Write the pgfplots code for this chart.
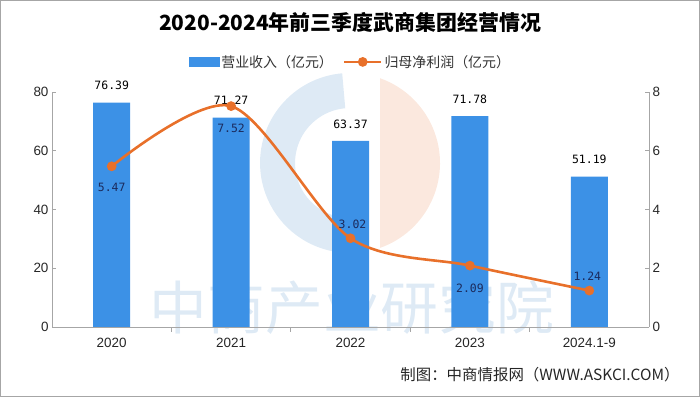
\documentclass[border=0pt]{standalone}
\usepackage{pgfplots}
\pgfplotsset{compat=1.18}
\usepackage{fontspec}
\setmainfont{Noto Sans CJK SC}
\newfontfamily\monofont{DejaVu Sans Mono}
\newfontfamily\arialfont{Liberation Sans}
\definecolor{barblue}{HTML}{3C91E6}
\definecolor{lineor}{HTML}{E8702A}
\definecolor{lblnavy}{HTML}{1B2A5C}
\definecolor{axgray}{HTML}{A6A6A6}
\definecolor{wmblue}{HTML}{DEEAF5}
\definecolor{wmpeach}{HTML}{FBE8DE}
\begin{document}
\begin{tikzpicture}
\useasboundingbox (0,0) rectangle (700bp,397bp);
\begin{scope}[x=1bp,y=1bp]
\draw[black!35, line width=1.5bp] (0.75,0.75) rectangle (699.25,396.25);
% watermark logo
\fill[wmpeach] (380,318.9) -- (380,149.1) arc[start angle=-70.53,end angle=70.53,radius=90] -- cycle;
\fill[wmblue] (342.2,323.7) arc[start angle=95,end angle=280,radius=90] -- (359.6,179.8) arc[start angle=280,end angle=95,radius=55] -- cycle;
\node[wmblue, font=\fontsize{58}{58}\selectfont] at (352,89) {中商产业研究院};
% title and source
\node[font=\bfseries\fontsize{21}{24}\selectfont] at (350,375) {2020-2024年前三季度武商集团经营情况};
\node[anchor=east, font=\fontsize{15.5}{17}\selectfont, text=black!85] at (683,22) {制图：中商情报网（WWW.ASKCI.COM）};
\end{scope}
\begin{axis}[
  at={(52bp,70bp)}, anchor=south west, scale only axis,
  width=597bp, height=235bp,
  xmin=-0.5, xmax=4.5, ymin=0, ymax=80,
  axis x line*=bottom, axis y line*=left,
  axis line style={axgray, line width=0.8bp},
  xtick={0,1,2,3,4}, xticklabels={2020,2021,2022,2023,2024.1-9},
  major x tick style={draw=none},
  minor xtick={0.5,1.5,2.5,3.5},
  minor tick length=5bp, minor x tick style={axgray, line width=0.8bp},
  ytick={0,20,40,60,80}, tick align=inside, major tick length=4bp,
  y tick style={axgray, line width=0.8bp},
  ticklabel style={font=\arialfont\fontsize{13.5}{15}\selectfont, text=black!85},
  xticklabel style={yshift=-4bp},
  /pgf/number format/assume math mode=true,
  ybar, bar width=37bp,
  nodes near coords={\pgfmathprintnumber[fixed,fixed zerofill,precision=2,assume math mode=true]{\pgfplotspointmeta}},
  every node near coord/.append style={anchor=center, yshift=17bp, font=\monofont\fontsize{11.5}{13}\selectfont, text=black},
]
\addplot[fill=barblue, draw=none] coordinates {(0,76.39) (1,71.27) (2,63.37) (3,71.78) (4,51.19)};
\end{axis}
\begin{axis}[
  at={(52bp,70bp)}, anchor=south west, scale only axis,
  width=597bp, height=235bp,
  xmin=-0.5, xmax=4.5, ymin=0, ymax=8,
  axis x line=none, axis y line*=right,
  axis line style={axgray, line width=0.8bp},
  ytick={0,2,4,6,8}, tick align=inside, major tick length=4bp,
  y tick style={axgray, line width=0.8bp},
  yticklabel style={font=\arialfont\fontsize{13.5}{15}\selectfont, text=black!85},
  /pgf/number format/assume math mode=true,
  legend style={at={(0.5,1.128)}, anchor=center, draw=none, fill=none,
    legend columns=2, font=\fontsize{14}{16}\selectfont, text=black!80,
    /tikz/every even column/.append style={column sep=8bp}},
]
\addlegendimage{legend image code/.code={\fill[barblue] (0bp,-4.5bp) rectangle (30bp,4.5bp);}}
\addlegendentry{营业收入（亿元）}
\addplot[lineor, line width=2.6bp, smooth, mark=*, mark size=3.5bp,
  mark options={fill=lineor, draw=lineor},
  legend image code/.code={\draw[lineor,line width=2.6bp] (0bp,0bp) -- (37bp,0bp); \fill[lineor] (18.5bp,0bp) circle (3.5bp);},
  nodes near coords={\pgfmathprintnumber[fixed,fixed zerofill,precision=2,assume math mode=true]{\pgfplotspointmeta}},
  visualization depends on={\thisrow{dy} \as \labdy},
  visualization depends on={\thisrow{dx} \as \labdx},
  every node near coord/.append style={anchor=center, yshift=\labdy bp, xshift=\labdx bp, font=\monofont\fontsize{11.5}{13}\selectfont, text=lblnavy},
] table {
x y dy dx
0 5.47 -21 0
1 7.52 -22 0
2 3.02 14 2
3 2.09 -23 0
4 1.24 14 -2
};
\addlegendentry{归母净利润（亿元）}
\end{axis}
\end{tikzpicture}
\end{document}
